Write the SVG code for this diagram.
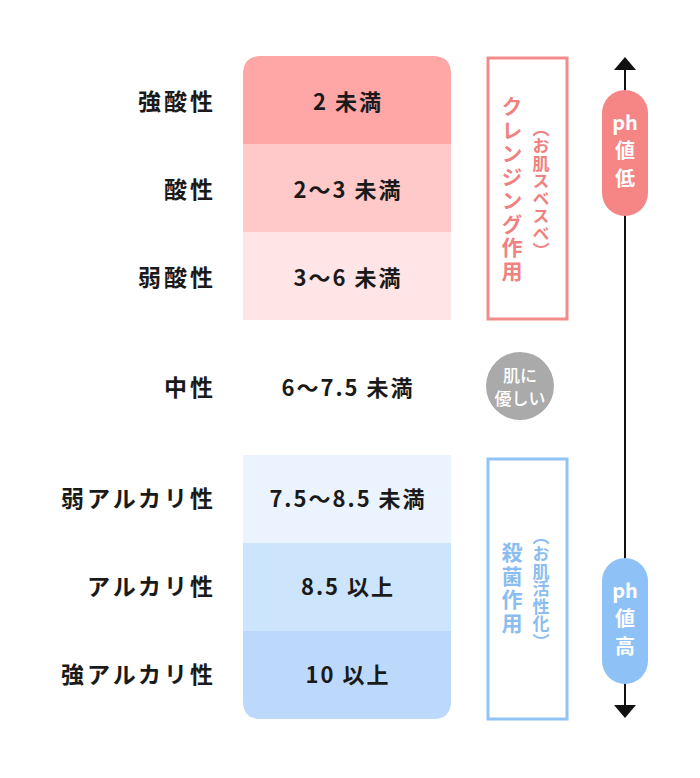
<svg xmlns="http://www.w3.org/2000/svg" width="700" height="778" viewBox="0 0 700 778">
<style>
text{font-family:"Noto Sans CJK JP","Noto Sans",sans-serif;font-weight:bold;}
.lbl{font-size:23px;fill:#1a1a1a;text-anchor:end;dominant-baseline:central;letter-spacing:3px;}
.val{font-size:22px;fill:#1a1a1a;text-anchor:middle;dominant-baseline:central;letter-spacing:2px;}
.vt{writing-mode:vertical-rl;text-anchor:middle;}
.pill{font-size:20px;fill:#fff;text-anchor:middle;}
.ct{font-size:17px;fill:#fff;text-anchor:middle;font-weight:500;dominant-baseline:central;}
</style>
<defs>
<clipPath id="topc"><path d="M243,74 Q243,56 261,56 H433 Q451,56 451,74 V320 H243 Z"/></clipPath>
<clipPath id="botc"><path d="M243,455 H451 V701 Q451,719 433,719 H261 Q243,719 243,701 Z"/></clipPath>
</defs>
<rect width="700" height="778" fill="#fff"/>
<g id="acid-rows" clip-path="url(#topc)">
<rect x="243" y="56" width="208" height="88" fill="#ffa6a6"/>
<rect x="243" y="144" width="208" height="88" fill="#ffc9c9"/>
<rect x="243" y="232" width="208" height="88" fill="#ffe5e5"/>
</g>
<g id="alk-rows" clip-path="url(#botc)">
<rect x="243" y="455" width="208" height="88" fill="#eaf3fe"/>
<rect x="243" y="543" width="208" height="88" fill="#cde4fd"/>
<rect x="243" y="631" width="208" height="88" fill="#bcd9fc"/>
</g>
<g id="labels">
<text class="lbl" x="216" y="100">強酸性</text>
<text class="lbl" x="216" y="188">酸性</text>
<text class="lbl" x="216" y="276">弱酸性</text>
<text class="lbl" x="216" y="386">中性</text>
<text class="lbl" x="216" y="497">弱アルカリ性</text>
<text class="lbl" x="216" y="585">アルカリ性</text>
<text class="lbl" x="216" y="673">強アルカリ性</text>
</g>
<g id="values">
<text class="val" x="348" y="100">2 未満</text>
<text class="val" x="348" y="188">2～3 未満</text>
<text class="val" x="348" y="276">3～6 未満</text>
<text class="val" x="348" y="386">6～7.5 未満</text>
<text class="val" x="348" y="497">7.5～8.5 未満</text>
<text class="val" x="348" y="585">8.5 以上</text>
<text class="val" x="348" y="673">10 以上</text>
</g>
<g id="cleansing">
<rect x="488" y="58" width="79" height="261" fill="none" stroke="#f38b8b" stroke-width="3"/>
<text class="vt" x="512" y="190" fill="#f08181" font-size="21" letter-spacing="2.5">クレンジング作用</text>
<text class="vt" x="541" y="190" fill="#f08181" font-size="17" letter-spacing="0.5">（お肌スベスベ）</text>
</g>
<g id="sterilize">
<rect x="488" y="459" width="79" height="260" fill="none" stroke="#91c4f5" stroke-width="3"/>
<text class="vt" x="512" y="589" fill="#8bbdf0" font-size="21" letter-spacing="2.5">殺菌作用</text>
<text class="vt" x="541" y="589" fill="#8bbdf0" font-size="17" letter-spacing="0.5">（お肌活性化）</text>
</g>
<g id="gentle">
<circle cx="520" cy="386" r="34" fill="#aaaaaa"/>
<text class="ct" x="520" y="374">肌に</text>
<text class="ct" x="520" y="397">優しい</text>
</g>
<g id="connectors">
<line x1="625" y1="66" x2="625" y2="708" stroke="#111" stroke-width="2"/>
<path d="M614,70 L625,57 L636,70 Z" fill="#111"/>
<path d="M614,705 L625,718 L636,705 Z" fill="#111"/>
</g>
<g id="ph-low">
<rect x="602" y="90" width="46" height="126" rx="23" fill="#f68585"/>
<text class="pill" x="625" y="130">ph</text>
<text class="pill" x="625" y="158">値</text>
<text class="pill" x="625" y="186">低</text>
</g>
<g id="ph-high">
<rect x="602" y="558" width="46" height="126" rx="23" fill="#8ec2f6"/>
<text class="pill" x="625" y="598">ph</text>
<text class="pill" x="625" y="626">値</text>
<text class="pill" x="625" y="654">高</text>
</g>
</svg>
